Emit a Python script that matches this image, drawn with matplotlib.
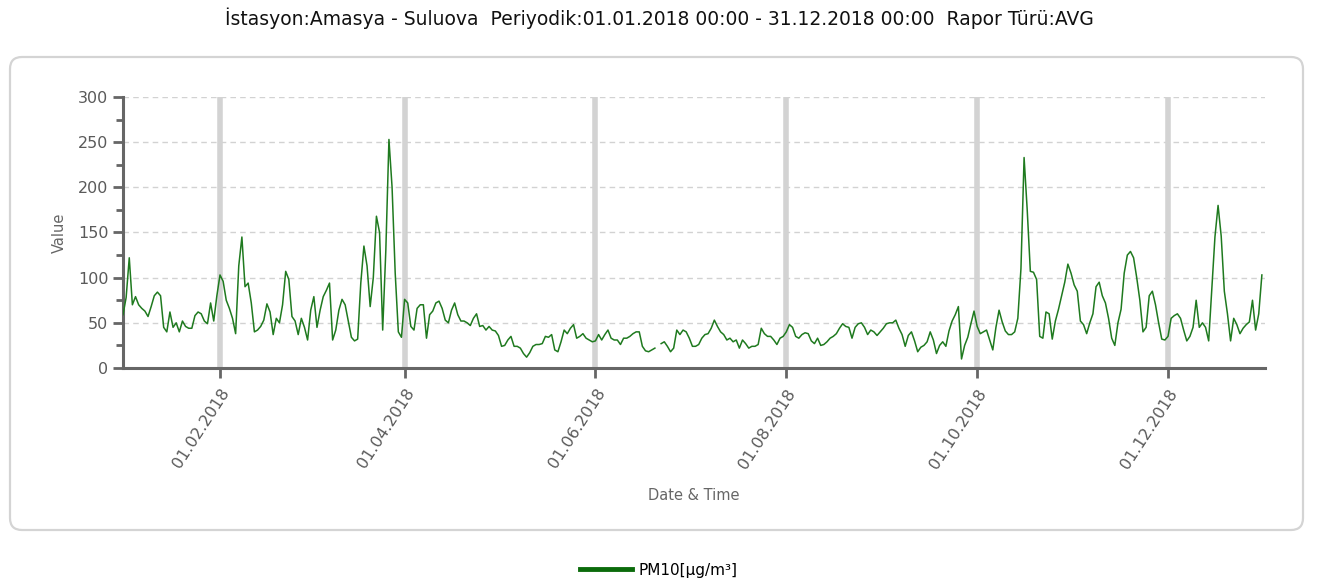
import numpy as np
import pandas as pd
import matplotlib
matplotlib.use("Agg")
import matplotlib.pyplot as plt
import matplotlib.dates as mdates
from matplotlib.patches import FancyBboxPatch
from matplotlib.transforms import IdentityTransform
from matplotlib.ticker import MultipleLocator

plt.rcParams['font.family'] = ['DejaVu Sans']

# ---- data: daily PM10 averages, 2018 ----
jan = [59, 78, 122, 70, 79, 70, 66, 63, 57, 68, 80, 84, 80, 45, 40, 62, 45, 50, 40, 52,
       46, 44, 44, 58, 62, 60, 52, 49, 72, 52, 80]
feb = [103, 96, 75, 66, 55, 38, 113, 145, 90, 94, 72, 40, 42, 46, 53, 71, 62, 37, 55, 50,
       70, 107, 98, 57, 52, 37, 55, 45]
mar = [31, 64, 79, 45, 64, 79, 86, 94, 31, 42, 64, 76, 70, 52, 34, 30, 32, 94, 135, 113,
       68, 100, 168, 150, 42, 130, 253, 200, 105, 40, 34]
apr = [76, 72, 46, 42, 66, 70, 70, 33, 59, 63, 72, 74, 66, 53, 50, 64, 72, 59, 52, 52,
       50, 47, 55, 60, 46, 47, 42, 46, 42, 41]
may = [36, 24, 25, 31, 35, 24, 24, 22, 16, 12, 17, 24, 26, 26, 27, 35, 34, 37, 20, 18,
       29, 42, 38, 44, 48, 33, 35, 38, 33, 31, 29]
jun = [30, 37, 31, 37, 42, 33, 31, 31, 26, 33, 33, 35, 38, 40, 40, 24, 19, 18, 20, 22,
       np.nan, 27, 29, 24, 18, 22, 42, 37, 42, 40]
jul = [33, 24, 24, 26, 33, 37, 38, 44, 53, 46, 40, 37, 31, 33, 29, 31, 22, 31, 27, 22,
       24, 24, 26, 44, 38, 35, 35, 31, 26, 33, 35]
aug = [40, 48, 45, 35, 33, 37, 39, 38, 30, 27, 33, 25, 26, 29, 33, 35, 38, 44, 49, 46,
       45, 33, 45, 49, 50, 45, 37, 42, 40, 36, 40]
sep = [44, 49, 50, 50, 53, 44, 37, 24, 36, 40, 30, 18, 23, 25, 29, 40, 31, 16, 25, 29,
       24, 41, 52, 59, 68, 10, 25, 34, 49, 63]
oct_ = [46, 38, 40, 42, 31, 20, 45, 64, 51, 41, 37, 37, 40, 55, 110, 233, 175, 107, 106, 98,
        35, 33, 62, 60, 32, 52, 65, 80, 95, 115, 105]
nov = [92, 85, 52, 48, 38, 50, 60, 90, 95, 80, 72, 55, 33, 25, 50, 65, 105, 125, 129, 122,
       100, 75, 40, 45, 80, 85, 70, 50, 32, 31]
dec = [35, 55, 58, 60, 55, 42, 30, 35, 45, 75, 45, 50, 45, 30, 88, 145, 180, 146, 85, 60,
       30, 55, 48, 38, 44, 48, 51, 75, 42, 60, 103]

pm10 = jan + feb + mar + apr + may + jun + jul + aug + sep + oct_ + nov + dec
dates = pd.date_range("2018-01-01", periods=len(pm10), freq="D")
tick_dates = pd.to_datetime(["2018-02-01", "2018-04-01", "2018-06-01",
                             "2018-08-01", "2018-10-01", "2018-12-01"])

title = "İstasyon:Amasya - Suluova  Periyodik:01.01.2018 00:00 - 31.12.2018 00:00  Rapor Türü:AVG"

# ---- figure ----
fig = plt.figure(figsize=(13.18, 5.82), dpi=100)

# rounded frame around the plot area (pixel coords)
frame = FancyBboxPatch((10, 52), 1293, 473, boxstyle="round,pad=0,rounding_size=12",
                       transform=IdentityTransform(), facecolor="white",
                       edgecolor="#d4d4d4", linewidth=1.6, zorder=0)
fig.add_artist(frame)

ax = fig.add_axes([123/1318, 1 - 368/582, (1265-123)/1318, (368-97)/582])
ax.set_facecolor("none")

line, = ax.plot(dates, pm10, color="#1f7a1f", linewidth=1.1, label="PM10[µg/m³]", zorder=3)

ax.set_xlim(pd.Timestamp("2018-01-01"), pd.Timestamp("2019-01-01"))
ax.set_ylim(0, 300)

# grid: dashed horizontal, thick grey verticals
ax.yaxis.set_major_locator(MultipleLocator(50))
ax.yaxis.set_minor_locator(MultipleLocator(25))
for v in range(50, 301, 50):
    ax.axhline(v, color="#d2d2d2", linestyle=(0, (4, 3)), linewidth=1, zorder=1)
for d in tick_dates:
    ax.axvline(d, color="#d3d3d3", linewidth=4, zorder=1)

ax.set_xticks(tick_dates)
ax.xaxis.set_major_formatter(mdates.DateFormatter("%d.%m.%Y"))
plt.setp(ax.get_xticklabels(), rotation=57, ha="right", va="top", rotation_mode="anchor")

for s in ["top", "right"]:
    ax.spines[s].set_visible(False)
for s in ["left", "bottom"]:
    ax.spines[s].set_color("#666666")
    ax.spines[s].set_linewidth(2.2)

ax.tick_params(axis="both", which="major", colors="#666666", width=2, length=7,
               labelsize=11.5, labelcolor="#5a5a5a")
ax.tick_params(axis="y", which="minor", colors="#666666", width=2, length=5)
ax.tick_params(axis="x", pad=6)

ax.set_xlabel("Date & Time", fontsize=10.5, color="#666666", labelpad=12)
ax.set_ylabel("Value", fontsize=10.5, color="#666666", labelpad=8)

fig.text(0.5, 1 - 18/582, title, ha="center", va="center", fontsize=13.5, color="#111111")

leg = fig.legend(handles=[line], loc="center", bbox_to_anchor=(0.5, 1 - 570/582),
                 frameon=False, fontsize=11, handlelength=3.4, handletextpad=0.4)
leg.get_lines()[0].set_linewidth(3.5)
leg.get_lines()[0].set_color("#0b6b0b")

fig.savefig("out.png", dpi=100)
